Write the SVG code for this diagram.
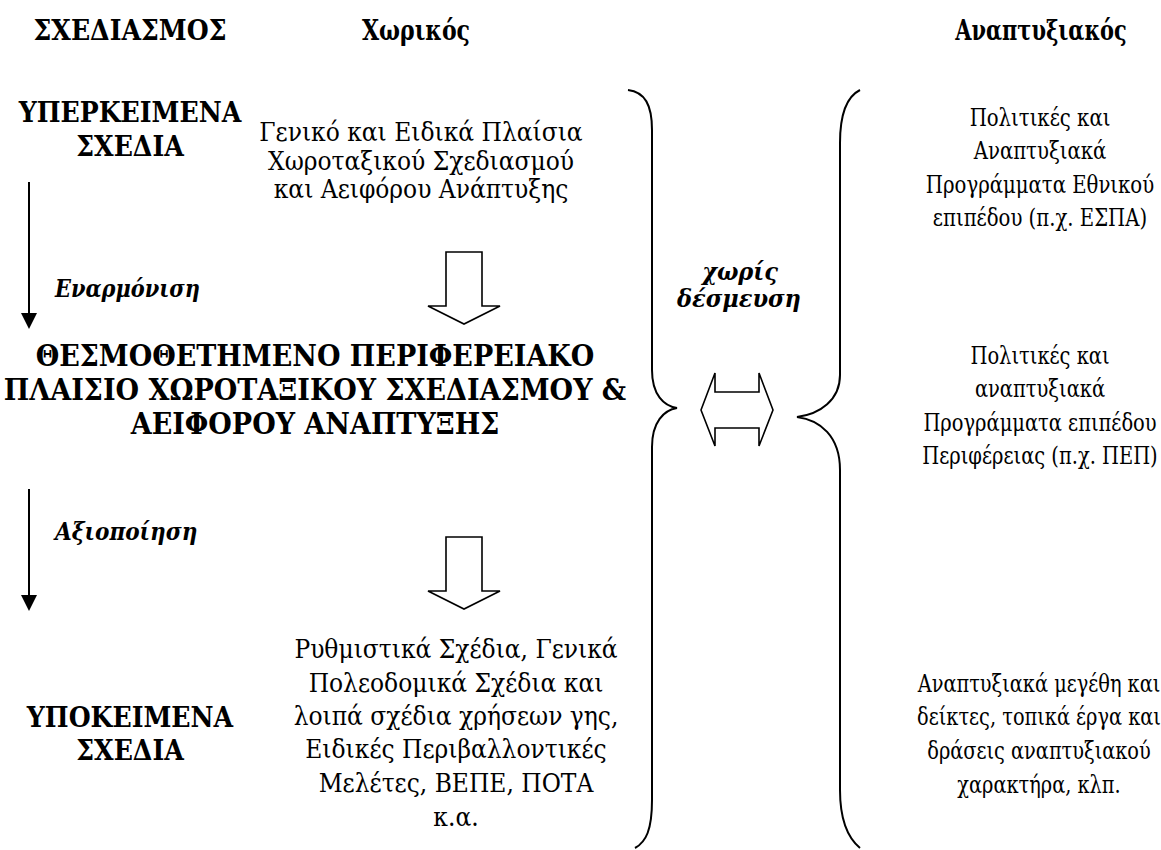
<svg xmlns="http://www.w3.org/2000/svg" width="1161" height="850" viewBox="0 0 1161 850" font-family="DejaVu Serif Condensed, DejaVu Serif, serif">
<style>
text{fill:#000;font-family:"DejaVu Serif Condensed","DejaVu Serif","Liberation Serif",serif}
.h{font-size:28px;font-weight:bold}
.t{font-size:30px;font-weight:bold}
.b{font-size:26px}
.r{font-size:25px}
.bi{font-size:25px;font-weight:bold;font-style:italic}
.c{text-anchor:middle}
.ln{fill:none;stroke:#000;stroke-width:2}
.blk{fill:#fff;stroke:#000;stroke-width:1.6;stroke-linejoin:miter}
</style>
<rect width="1161" height="850" fill="#fff"/>
<g id="headers">
<text class="h c" x="130" y="40" font-size="29">ΣΧΕΔΙΑΣΜΟΣ</text>
<text class="h c" transform="translate(416,40) scale(0.875,1)" x="0" y="0">Χωρικός</text>
<text class="h c" transform="translate(1041,40) scale(0.83,1)" x="0" y="0">Αναπτυξιακός</text>
</g>
<g id="node-yperkeimena">
<text class="h c" x="130" y="122">ΥΠΕΡΚΕΙΜΕΝΑ</text>
<text class="h c" x="130" y="156">ΣΧΕΔΙΑ</text>
</g>
<g id="node-plaisia">
<text class="b c" x="421" y="141">Γενικό και Ειδικά Πλαίσια</text>
<text class="b c" x="421" y="170">Χωροταξικού Σχεδιασμού</text>
<text class="b c" x="421" y="198">και Αειφόρου Ανάπτυξης</text>
</g>
<g id="node-thesmothetimeno">
<text class="t c" x="315" y="366">ΘΕΣΜΟΘΕΤΗΜΕΝΟ ΠΕΡΙΦΕΡΕΙΑΚΟ</text>
<text class="t c" x="315" y="400">ΠΛΑΙΣΙΟ ΧΩΡΟΤΑΞΙΚΟΥ ΣΧΕΔΙΑΣΜΟΥ &amp;</text>
<text class="t c" x="315" y="434">ΑΕΙΦΟΡΟΥ ΑΝΑΠΤΥΞΗΣ</text>
</g>
<g id="node-ypokeimena">
<text class="h c" x="130" y="727">ΥΠΟΚΕΙΜΕΝΑ</text>
<text class="h c" x="130" y="760">ΣΧΕΔΙΑ</text>
</g>
<g id="node-rythmistika">
<text class="b c" x="456" y="658">Ρυθμιστικά Σχέδια, Γενικά</text>
<text class="b c" x="456" y="692">Πολεοδομικά Σχέδια και</text>
<text class="b c" x="456" y="725">λοιπά σχέδια χρήσεων γης,</text>
<text class="b c" x="456" y="758">Ειδικές Περιβαλλοντικές</text>
<text class="b c" x="456" y="792">Μελέτες, ΒΕΠΕ, ΠΟΤΑ</text>
<text class="b c" x="456" y="826">κ.α.</text>
</g>
<g id="node-ethniko" transform="translate(1040,0) scale(0.875,1)">
<text class="r c" x="0" y="126">Πολιτικές και</text>
<text class="r c" x="0" y="159">Αναπτυξιακά</text>
<text class="r c" x="0" y="193">Προγράμματα Εθνικού</text>
<text class="r c" x="0" y="226">επιπέδου (π.χ. ΕΣΠΑ)</text>
</g>
<g id="node-periferia" transform="translate(1040,0) scale(0.865,1)">
<text class="r c" x="0" y="364">Πολιτικές και</text>
<text class="r c" x="0" y="397">αναπτυξιακά</text>
<text class="r c" x="0" y="431">Προγράμματα επιπέδου</text>
<text class="r c" x="0" y="464">Περιφέρειας (π.χ. ΠΕΠ)</text>
</g>
<g id="node-topika" transform="translate(1039,0) scale(0.86,1)">
<text class="r c" x="0" y="692">Αναπτυξιακά μεγέθη και</text>
<text class="r c" x="0" y="725">δείκτες, τοπικά έργα και</text>
<text class="r c" x="0" y="759">δράσεις αναπτυξιακού</text>
<text class="r c" x="0" y="793">χαρακτήρα, κλπ.</text>
</g>
<g id="connectors">
<line class="ln" x1="29" y1="182" x2="29" y2="314"/>
<polygon points="21,313 37,313 29,329" fill="#000"/>
<text class="bi" transform="translate(55,297) scale(0.93,1)" x="0" y="0">Εναρμόνιση</text>
<line class="ln" x1="29" y1="489" x2="29" y2="596"/>
<polygon points="21,595 37,595 29,611" fill="#000"/>
<text class="bi" transform="translate(55,540) scale(0.96,1)" x="0" y="0">Αξιοποίηση</text>
<polygon class="blk" points="446,252 482,252 482,306 500,306 464,324 428,306 446,306"/>
<polygon class="blk" points="446,537 482,537 482,591 500,591 464,609 428,591 446,591"/>
<path class="ln" d="M628,90 C645,92 652,105 652,130 L652,370 C652,395 664,406 677,408 C664,410 652,422 652,447 L652,800 C652,830 646,842 635,848"/>
<path class="ln" d="M860,90 C848,96 840,112 840,143 L840,375 C840,400 820,414 797,417 C820,420 840,436 840,470 L840,790 C840,820 848,838 860,848"/>
<polygon class="blk" points="701,410 715,373 715,392 759,392 759,373 773,410 759,446 759,428 715,428 715,446"/>
<text class="bi c" x="740" y="280">χωρίς</text>
<text class="bi c" x="739" y="307">δέσμευση</text>
</g>
</svg>
